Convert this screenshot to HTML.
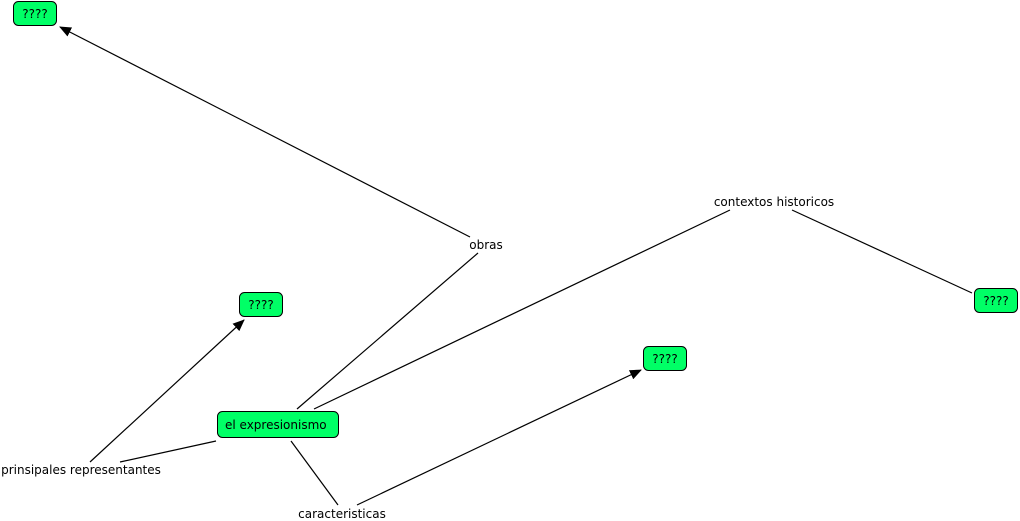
<!DOCTYPE html><html><head><style>body{margin:0;background:#fff}svg{display:block}text{font-family:"DejaVu Sans","Liberation Sans",sans-serif;font-size:12px;fill:#000}</style></head><body>
<svg width="1020" height="521" viewBox="0 0 1020 521">
<defs><marker id="a" markerWidth="12" markerHeight="10" refX="11" refY="5" orient="auto" markerUnits="userSpaceOnUse"><path d="M0,0L12,5L0,10z" fill="#000"/></marker></defs>
<g stroke="#000" stroke-width="1.2" fill="none">
<line x1="297" y1="409" x2="478" y2="253"/>
<line x1="470" y1="237" x2="60" y2="27" marker-end="url(#a)"/>
<line x1="314" y1="409" x2="730" y2="210"/>
<line x1="792" y1="210" x2="972" y2="293"/>
<line x1="216" y1="441" x2="120" y2="462"/>
<line x1="90" y1="462" x2="244" y2="320" marker-end="url(#a)"/>
<line x1="291" y1="441" x2="338" y2="505"/>
<line x1="357" y1="505" x2="641" y2="370" marker-end="url(#a)"/>
</g>
<g stroke="#000" stroke-width="1" fill="#00ff66">
<rect x="217.5" y="411.5" width="121" height="26" rx="5"/>
<rect x="13.5" y="1.5" width="43" height="24" rx="5"/>
<rect x="239.5" y="292.5" width="43" height="24" rx="5"/>
<rect x="643.5" y="346.5" width="43" height="24" rx="5"/>
<rect x="974.5" y="288.5" width="43" height="24" rx="5"/>
</g>
<text x="225" y="429">el expresionismo</text>
<text x="35" y="18" text-anchor="middle">????</text>
<text x="261" y="309" text-anchor="middle">????</text>
<text x="665" y="363" text-anchor="middle">????</text>
<text x="996" y="305" text-anchor="middle">????</text>
<text x="486" y="249" text-anchor="middle">obras</text>
<text x="774" y="206" text-anchor="middle">contextos historicos</text>
<text x="81" y="474" text-anchor="middle">prinsipales representantes</text>
<text x="342" y="518" text-anchor="middle">caracteristicas</text>
</svg></body></html>
